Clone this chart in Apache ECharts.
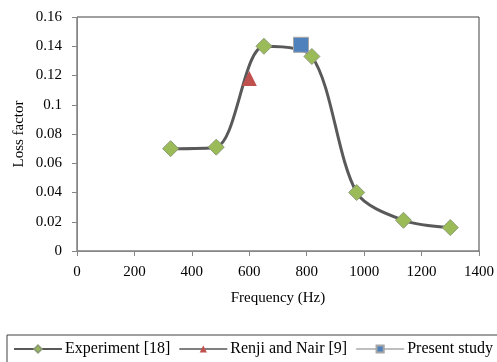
<!DOCTYPE html>
<html>
<head>
<meta charset="utf-8">
<script src="https://cdn.jsdelivr.net/npm/echarts@6/dist/echarts.min.js"></script>
<style>html,body{margin:0;padding:0;background:#fff;}#c{width:497px;height:362px;}</style>
</head>
<body>
<div id="c"></div>
<script>
var expFreq = [326, 485, 651, 818, 974, 1137, 1300];
var expLoss = [0.070, 0.071, 0.140, 0.133, 0.040, 0.021, 0.016];
var renjiFreq = [600];
var renjiLoss = [0.118];
var presentFreq = [780];
var presentLoss = [0.141];
var seriesNames = ['Experiment [18]', 'Renji and Nair [9]', 'Present study'];
var xTicks = {min: 0, max: 1400, interval: 200};
var yTicks = {min: 0, max: 0.16, interval: 0.02};

function pairs(xs, ys){ return xs.map(function(x,i){return [x, ys[i]];}); }
var font = 'Liberation Serif';
var chart = echarts.init(document.getElementById('c'));
chart.setOption({
  animation: false,
  grid: {left: 77, right: 16, top: 17, bottom: 111, show: true, borderColor: '#404040', borderWidth: 1},
  xAxis: {
    type: 'value', min: xTicks.min, max: xTicks.max, interval: xTicks.interval,
    name: 'Frequency (Hz)', nameLocation: 'middle', nameGap: 40,
    nameTextStyle: {fontFamily: font, fontSize: 15, color: '#000'},
    axisLine: {show: true, lineStyle: {color: '#868686', width: 1}},
    axisTick: {show: true, length: 5, lineStyle: {color: '#868686'}},
    axisLabel: {fontFamily: font, fontSize: 15, color: '#000', margin: 14, formatter: function(v){return String(v);}},
    splitLine: {show: false}
  },
  yAxis: {
    type: 'value', min: yTicks.min, max: yTicks.max, interval: yTicks.interval,
    name: 'Loss factor', nameLocation: 'middle', nameGap: 50, nameRotate: 90, nameMoveOverlap: false,
    nameTextStyle: {fontFamily: font, fontSize: 15, color: '#000'},
    axisLine: {show: true, lineStyle: {color: '#868686', width: 1}},
    axisTick: {show: true, length: 5, lineStyle: {color: '#868686'}},
    axisLabel: {fontFamily: font, fontSize: 15, color: '#000', margin: 15},
    splitLine: {show: false}
  },
  legend: {
    left: 7, top: 335, width: 488,
    padding: [6, 6, 8, 6],
    borderColor: '#404040', borderWidth: 1,
    itemWidth: 48, itemHeight: 9, itemGap: 8,
    textStyle: {fontFamily: font, fontSize: 16, color: '#000', padding: [0,0,0,-2]},
    data: seriesNames
  },
  series: [
    {
      name: seriesNames[0], type: 'line', smooth: 0.3, smoothMonotone: 'none',
      data: pairs(expFreq, expLoss),
      symbol: 'diamond', symbolSize: 16,
      lineStyle: {color: '#595959', width: 3},
      itemStyle: {color: '#9BBB59', borderColor: '#8c9c74', borderWidth: 1},
      z: 2
    },
    {
      name: seriesNames[1], type: 'line',
      data: pairs(renjiFreq, renjiLoss),
      symbol: 'triangle', symbolSize: 15,
      lineStyle: {color: '#808080', width: 3},
      itemStyle: {color: '#C0504D', borderColor: '#C0504D', borderWidth: 0},
      z: 3
    },
    {
      name: seriesNames[2], type: 'line',
      data: pairs(presentFreq, presentLoss),
      symbol: 'rect', symbolSize: 15,
      lineStyle: {color: '#BFBFBF', width: 3},
      itemStyle: {color: '#4F81BD', borderColor: '#a6a6a6', borderWidth: 1},
      z: 4
    }
  ]
});
</script>
</body>
</html>
